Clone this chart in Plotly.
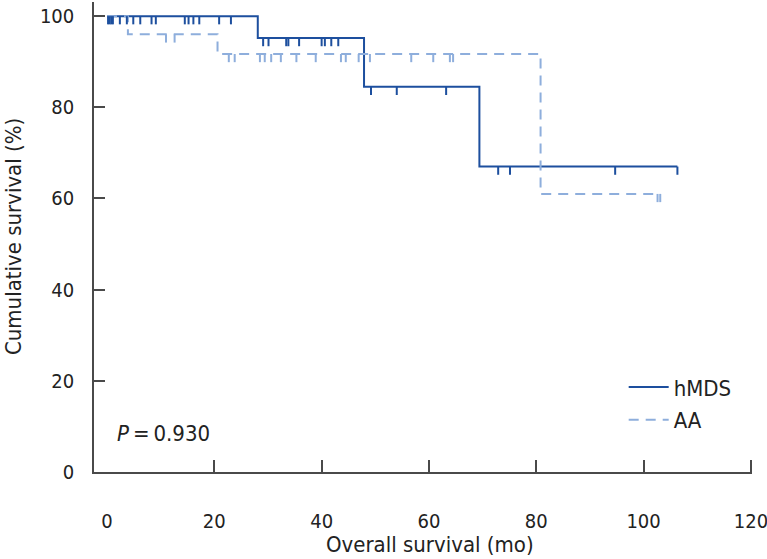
import numpy as np
import plotly.graph_objects as go

# ---- data ----
hmds_times = [0, 28.1, 47.9, 69.4, 106.3]
hmds_surv = [100, 95.2, 84.5, 67.0, 67.0]
hmds_censor = [0.2, 0.5, 0.8, 1.1, 2.4, 3.7, 4.9, 6.2, 8.3, 9.1, 14.5, 15.2, 16.1,
               17.2, 20.9, 23.1, 29.1, 30.1, 33.4, 33.8, 35.8, 40.0, 40.6, 41.8,
               43.1, 49.2, 54.0, 63.2, 72.9, 75.1, 94.7, 106.3]

aa_times = [0, 3.9, 20.6, 80.8, 103.1]
aa_surv = [100, 96.0, 91.7, 61.0, 61.0]
aa_censor = [11.0, 12.6, 22.7, 23.8, 28.5, 29.4, 30.6, 32.4, 35.3, 38.9, 43.6,
             44.5, 46.9, 49.0, 56.7, 60.8, 63.9, 64.5, 102.6, 103.1]

x_ticks = [0, 20, 40, 60, 80, 100, 120]
x_tick_marks = [20, 40, 60, 80, 100, 120]
y_ticks = [0, 20, 40, 60, 80, 100]

HMDS_COLOR = "#1d4f9e"
AA_COLOR = "#8eaedc"
AXIS_COLOR = "#4a4a4a"
TEXT_COLOR = "#222222"
FONT = "DejaVu Sans Condensed, Roboto, sans-serif"
TICK_LEN = 1.8  # censor tick length in survival units


def surv_at(times, surv, t):
    idx = np.searchsorted(np.array(times), t, side="right") - 1
    return np.array(surv)[idx]


def censor_segments(times, surv, cens):
    xs, ys = [], []
    for t in cens:
        s = float(surv_at(times, surv, t))
        xs += [t, t, None]
        ys += [s, s - TICK_LEN, None]
    return xs, ys


fig = go.Figure()

fig.add_trace(go.Scatter(x=hmds_times, y=hmds_surv, mode="lines", line_shape="hv",
                         line=dict(color=HMDS_COLOR, width=2), name="hMDS",
                         legendgroup="a"))
fig.add_trace(go.Scatter(x=aa_times, y=aa_surv, mode="lines", line_shape="hv",
                         line=dict(color=AA_COLOR, width=2, dash="10px,7px"), name="AA",
                         legendgroup="b"))

cx, cy = censor_segments(hmds_times, hmds_surv, hmds_censor)
fig.add_trace(go.Scatter(x=cx, y=cy, mode="lines", line=dict(color=HMDS_COLOR, width=2),
                         showlegend=False, hoverinfo="skip"))
cx, cy = censor_segments(aa_times, aa_surv, aa_censor)
fig.add_trace(go.Scatter(x=cx, y=cy, mode="lines", line=dict(color=AA_COLOR, width=2),
                         showlegend=False, hoverinfo="skip"))

fig.add_annotation(x=1.5, y=8.5, xref="x", yref="y", xanchor="left", yanchor="middle",
                   text="<i>P</i>\u2009=\u20090.930", showarrow=False,
                   font=dict(family=FONT, size=22, color=TEXT_COLOR))

# axis titles
fig.add_annotation(x=0.51, y=-0.155, xref="paper", yref="paper", xanchor="center",
                   yanchor="middle", showarrow=False,
                   text="Overall survival (mo)",
                   font=dict(family=FONT, size=22, color=TEXT_COLOR))
fig.add_annotation(x=-0.123, y=0.5, xref="paper", yref="paper", xanchor="center",
                   yanchor="middle", showarrow=False, textangle=-90,
                   text="Cumulative survival (%)",
                   font=dict(family=FONT, size=22, color=TEXT_COLOR))

fig.update_layout(
    width=767, height=559,
    margin=dict(l=94, r=15, t=2, b=87),
    paper_bgcolor="white", plot_bgcolor="white",
    font=dict(family=FONT, size=20, color=TEXT_COLOR),
    showlegend=True,
    legend=dict(x=0.805, y=0.225, xanchor="left", yanchor="top",
                bgcolor="rgba(0,0,0,0)", font=dict(size=22), tracegroupgap=1,
                itemwidth=40),
    xaxis=dict(range=[-2.42, 120.2], tickvals=x_ticks, showgrid=False, zeroline=False,
               showline=True, linecolor=AXIS_COLOR, linewidth=1.5, ticks="",
               ticklabelstandoff=30, ticklabeloverflow="allow", automargin=False,
               minor=dict(tickvals=x_tick_marks, ticks="inside", ticklen=12,
                          tickcolor=AXIS_COLOR, tickwidth=1.5, showgrid=False)),
    yaxis=dict(range=[0, 103.1], tickvals=y_ticks, showgrid=False, zeroline=False,
               showline=True, linecolor=AXIS_COLOR, linewidth=1.5, ticks="inside",
               ticklen=11, tickcolor=AXIS_COLOR, tickwidth=1.5, ticklabelstandoff=14,
               automargin=False),
)

fig.write_html("out.html", config={"displayModeBar": False},
               post_script="document.body.style.margin='0';document.body.style.padding='0';")
